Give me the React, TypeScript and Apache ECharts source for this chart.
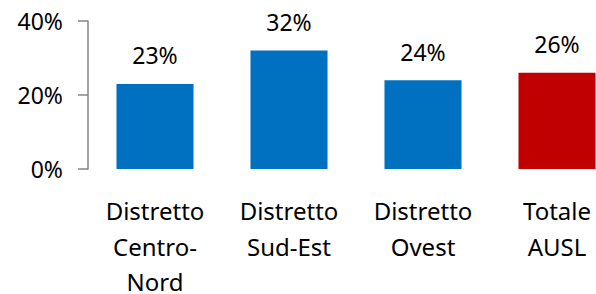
import React, { useEffect, useRef } from "react";
import * as echarts from "echarts";

const categories = ["Distretto\nCentro-\nNord", "Distretto\nSud-Est", "Distretto\nOvest", "Totale\nAUSL"];
const values = [23, 32, 24, 26];
const barColors = ["#0070C0", "#0070C0", "#0070C0", "#C00000"];
const yTicks = [0, 20, 40];

export default function App() {
  const ref = useRef<HTMLDivElement>(null);
  useEffect(() => {
    if (!ref.current) return;
    const chart = echarts.init(ref.current, null, { renderer: "svg" });
    const font = "Noto Sans";
    chart.setOption({
      animation: false,
      grid: { left: 88, right: -28, top: 21, bottom: 125, containLabel: false, outerBoundsMode: "none" },
      xAxis: {
        type: "category",
        data: categories,
        axisLine: { show: false },
        axisTick: { show: false },
        axisLabel: {
          interval: 0,
          margin: 24,
          fontFamily: font,
          fontSize: 24,
          lineHeight: 35.5,
          color: "#000",
        },
      },
      yAxis: {
        type: "value",
        min: yTicks[0],
        max: yTicks[yTicks.length - 1],
        interval: 20,
        splitLine: { show: false },
        axisLine: { show: true, lineStyle: { color: "#868686", width: 1.5 } },
        axisTick: { show: true, length: 10, lineStyle: { color: "#868686", width: 1.5 } },
        axisLabel: {
          margin: 25,
          fontFamily: font,
          fontSize: 23,
          color: "#000",
          formatter: (v: number) => v + "%",
        },
      },
      series: [
        {
          type: "bar",
          data: values.map((v, i) => ({ value: v, itemStyle: { color: barColors[i] } })),
          barWidth: "57.5%",
          label: {
            show: true,
            position: "top",
            distance: 17,
            fontFamily: font,
            fontSize: 23,
            color: "#000",
            formatter: (p: any) => p.value + "%",
          },
        },
      ],
    });
    return () => chart.dispose();
  }, []);
  return (
    <div
      ref={ref}
      style={{ position: "absolute", left: 0, top: 0, width: 596, height: 294 }}
    />
  );
}
